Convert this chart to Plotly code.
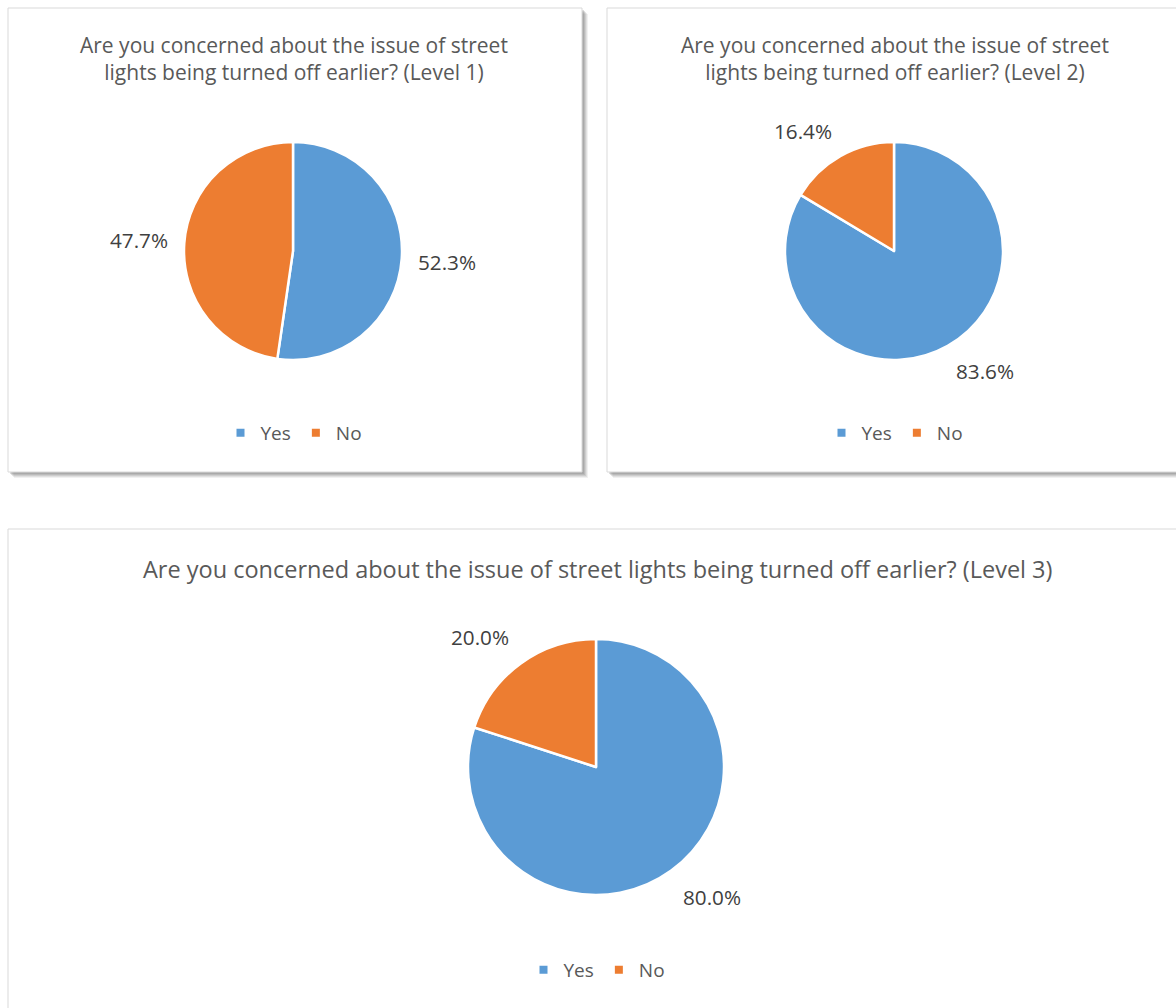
import math
import plotly.graph_objects as go

W, H = 1176, 1008

categories = ["Yes", "No"]
level1 = [52.3, 47.7]
level2 = [83.6, 16.4]
level3 = [80.0, 20.0]
titles = [
    "Are you concerned about the issue of street<br>lights being turned off earlier? (Level 1)",
    "Are you concerned about the issue of street<br>lights being turned off earlier? (Level 2)",
    "Are you concerned about the issue of street lights being turned off earlier? (Level 3)",
]
colors = ["#5B9BD5", "#ED7D31"]

FONT = "Open Sans"

# layout (pixel) settings per panel
panels = [(8, 8, 582, 472), (607, 8, 1190, 472), (8, 529, 1190, 1020)]
pie_geo = [(293, 251, 109), (894, 251, 109), (596, 767, 128)]
title_pos = [(294, 58), (895, 58), (597, 569)]
title_size = [21, 21, 23.5]
legend_pos = [(294, 433), (895, 433), (597, 970)]
label_gap = [16, 17, 20]
LABEL_W, LABEL_H = 58, 20  # approx label box size in px
series = [level1, level2, level3]


def px(x):
    return x / W


def py(y):
    return 1 - y / H


def soft(u, k=0.45):
    s = 1 if u >= 0 else -1
    return s * min(1.0, abs(u) / k)


fig = go.Figure()
shapes = []
annotations = []

for i, (x0, y0, x1, y1) in enumerate(panels):
    # soft shadow
    for k, op in [(6, 0.10), (5, 0.14), (4, 0.18), (3, 0.22), (2, 0.26)]:
        shapes.append(dict(type="rect", xref="paper", yref="paper",
                           x0=px(x0 + k), x1=px(x1 + k), y0=py(y0 + k), y1=py(y1 + k),
                           fillcolor=f"rgba(120,120,120,{op})", line=dict(width=0), layer="below"))
    shapes.append(dict(type="rect", xref="paper", yref="paper",
                       x0=px(x0), x1=px(x1), y0=py(y0), y1=py(y1),
                       fillcolor="white", line=dict(color="#D9D9D9", width=1), layer="below"))

for i, vals in enumerate(series):
    cx, cy, r = pie_geo[i]
    fig.add_trace(go.Pie(
        values=vals, labels=categories, sort=False, direction="clockwise", rotation=0,
        domain=dict(x=[px(cx - r), px(cx + r)], y=[py(cy + r), py(cy - r)]),
        marker=dict(colors=colors, line=dict(color="white", width=2.5)),
        textinfo="none", hoverinfo="label+percent", showlegend=False,
    ))
    total = sum(vals)
    cum = 0
    for v in vals:
        mid = (cum + v / 2) / total
        cum += v
        th = 2 * math.pi * mid
        ux, uy = math.sin(th), -math.cos(th)
        d = r + label_gap[i]
        lx = cx + d * ux + LABEL_W / 2 * soft(ux)
        ly = cy + d * uy + LABEL_H / 2 * soft(uy)
        annotations.append(dict(xref="paper", yref="paper", x=px(lx), y=py(ly),
                                xanchor="center", yanchor="middle", showarrow=False,
                                text=f"{v:.1f}%", font=dict(family=FONT, size=20.7, color="#404040")))
    tx, ty = title_pos[i]
    annotations.append(dict(xref="paper", yref="paper", x=px(tx), y=py(ty),
                            xanchor="center", yanchor="middle", showarrow=False,
                            text=titles[i], font=dict(family=FONT, size=title_size[i], color="#595959")))
    legname = "legend" if i == 0 else f"legend{i + 1}"
    for cat, col in zip(categories, colors):
        fig.add_trace(go.Scatter(x=[None], y=[None], mode="markers", name=cat,
                                 marker=dict(symbol="square", size=8, color=col),
                                 legend=legname, hoverinfo="skip"))

leg_common = dict(orientation="h", xanchor="center", yanchor="middle",
                  font=dict(family=FONT, size=19, color="#595959"),
                  bgcolor="rgba(0,0,0,0)", itemwidth=30)
fig.update_layout(
    width=W, height=H, margin=dict(l=0, r=0, t=0, b=0),
    paper_bgcolor="white", plot_bgcolor="rgba(0,0,0,0)",
    xaxis=dict(visible=False), yaxis=dict(visible=False),
    shapes=shapes, annotations=annotations,
    legend=dict(x=px(legend_pos[0][0]), y=py(legend_pos[0][1]), **leg_common),
    legend2=dict(x=px(legend_pos[1][0]), y=py(legend_pos[1][1]), **leg_common),
    legend3=dict(x=px(legend_pos[2][0]), y=py(legend_pos[2][1]), **leg_common),
)

fig.write_html("out.html")
